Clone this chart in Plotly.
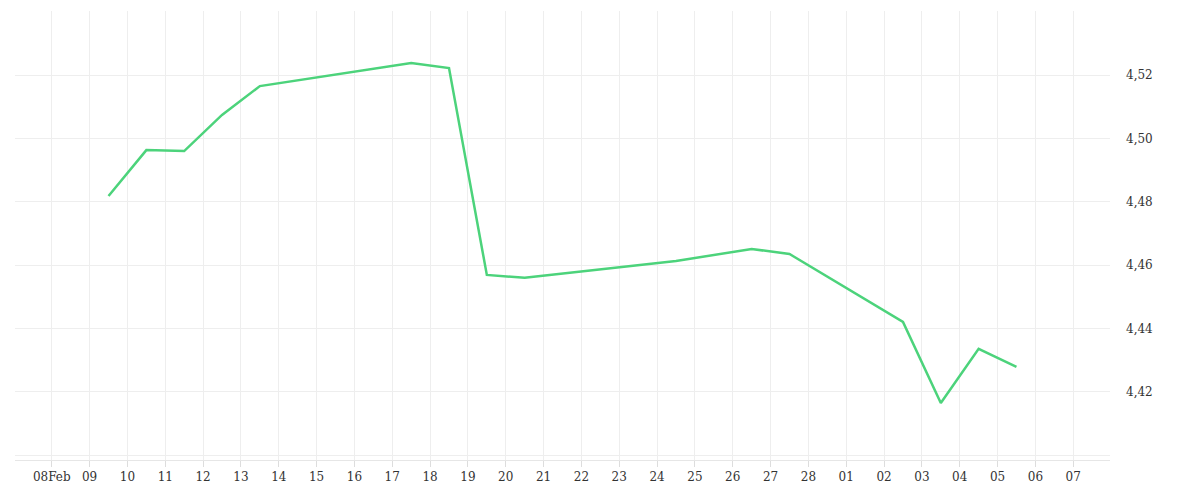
import plotly.graph_objects as go
import pandas as pd

# Daily readings (taken at midday)
dates = ["2023-02-09 12:00", "2023-02-10 12:00", "2023-02-11 12:00", "2023-02-12 12:00",
         "2023-02-13 12:00", "2023-02-17 12:00", "2023-02-18 12:00", "2023-02-19 12:00",
         "2023-02-20 12:00", "2023-02-24 12:00", "2023-02-26 12:00", "2023-02-27 12:00",
         "2023-03-02 12:00", "2023-03-03 12:00", "2023-03-04 12:00", "2023-03-05 12:00"]
values = [4.4818, 4.4963, 4.4960, 4.5074, 4.5165, 4.5238, 4.5222, 4.4569,
          4.4560, 4.4613, 4.4651, 4.4635, 4.4421, 4.4165, 4.4336, 4.4279]

tick_dates = pd.date_range("2023-02-08", "2023-03-07", freq="D")
tick_text = ["08Feb"] + [d.strftime("%d") for d in tick_dates[1:]]
y_ticks = [4.40, 4.42, 4.44, 4.46, 4.48, 4.50, 4.52]
y_text = [""] + ["4,42", "4,44", "4,46", "4,48", "4,50", "4,52"]

fig = go.Figure()
fig.add_trace(go.Scatter(
    x=pd.to_datetime(dates), y=values, mode="lines",
    line=dict(color="#4cd37b", width=2.5),
))

fig.update_layout(
    width=1200, height=500,
    margin=dict(l=7, r=98, t=3, b=48),
    plot_bgcolor="white", paper_bgcolor="white",
    showlegend=False,
    font=dict(family="DejaVu Serif", size=12, color="#333"),
    xaxis=dict(
        range=["2023-02-07 00:40", "2023-03-07 23:20"],
        tickvals=tick_dates, ticktext=tick_text,
        showgrid=True, gridcolor="#eeeeee",
        ticks="outside", ticklen=6, tickcolor="#dddddd",
        showline=True, linecolor="#e6e6e6", zeroline=False,
    ),
    yaxis=dict(
        side="right", range=[4.3985, 4.5402],
        tickvals=y_ticks, ticktext=y_text,
        showgrid=True, gridcolor="#eeeeee", zeroline=False,
        ticklabelstandoff=15,
    ),
)

fig.write_html("out.html")
